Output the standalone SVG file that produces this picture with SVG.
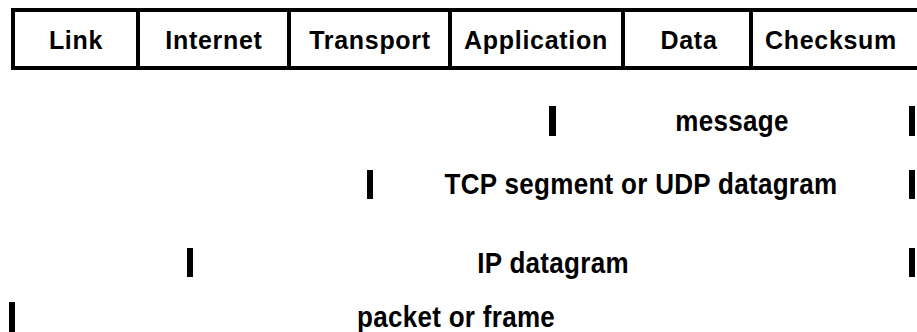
<svg xmlns="http://www.w3.org/2000/svg" width="917" height="332" viewBox="0 0 917 332">
  <style>
    .cell { fill: #fff; stroke: #000; stroke-width: 4; }
    .hdr { font-family: "Liberation Sans", Arial, sans-serif; font-weight: bold; font-size: 25px; letter-spacing: 0.7px; text-anchor: middle; fill: #000; }
    .lbl { font-family: "Liberation Sans", Arial, sans-serif; font-weight: bold; font-size: 26px; letter-spacing: 0.3px; text-anchor: middle; fill: #000; }
    .bar { fill: #000; }
  </style>
  <rect width="917" height="332" fill="#fff"/>

  <!-- header: field layout of an encapsulated packet -->
  <g id="header">
    <rect class="cell" x="13" y="10" width="912" height="58"/>
    <g id="cell-link"><text class="hdr" x="76" y="49">Link</text></g>
    <g id="cell-internet"><rect class="cell" x="138" y="10" width="151" height="58"/><text class="hdr" x="214" y="49">Internet</text></g>
    <g id="cell-transport"><rect class="cell" x="289" y="10" width="161" height="58"/><text class="hdr" x="370" y="49">Transport</text></g>
    <g id="cell-application"><rect class="cell" x="450" y="10" width="173" height="58"/><text class="hdr" x="536" y="49">Application</text></g>
    <g id="cell-data"><rect class="cell" x="623" y="10" width="128" height="58"/><text class="hdr" x="689" y="49">Data</text></g>
    <g id="cell-checksum"><text class="hdr" x="831" y="49">Checksum</text></g>
  </g>

  <!-- span markers for each layer's unit -->
  <g id="span-message">
    <rect class="bar" x="549" y="106" width="7" height="30"/>
    <text class="lbl" transform="translate(732 131) scale(1 1.1)">message</text>
    <rect class="bar" x="909" y="106" width="6" height="30"/>
  </g>
  <g id="span-segment">
    <rect class="bar" x="367" y="170" width="6" height="29"/>
    <text class="lbl" transform="translate(641 194) scale(1 1.1)">TCP segment or UDP datagram</text>
    <rect class="bar" x="909" y="170" width="6" height="29"/>
  </g>
  <g id="span-ip">
    <rect class="bar" x="187" y="248" width="6" height="29"/>
    <text class="lbl" transform="translate(553 273) scale(1 1.1)">IP datagram</text>
    <rect class="bar" x="909" y="248" width="6" height="29"/>
  </g>
  <g id="span-frame">
    <rect class="bar" x="9" y="302" width="6" height="30"/>
    <text class="lbl" transform="translate(456 327) scale(1 1.1)">packet or frame</text>
  </g>
</svg>
